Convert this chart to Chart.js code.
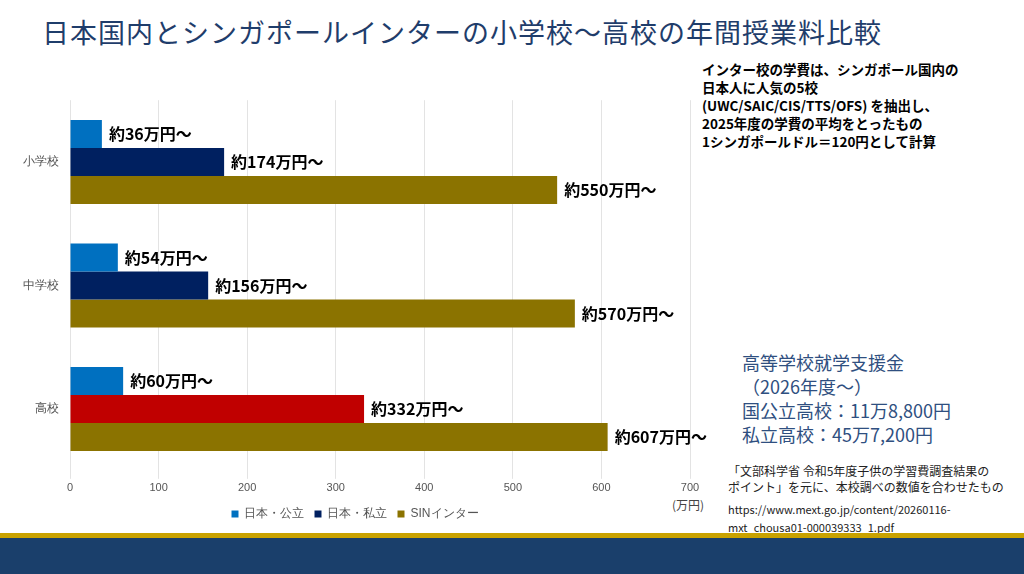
<!DOCTYPE html>
<html><head><meta charset="utf-8">
<script src="https://cdn.jsdelivr.net/npm/chart.js@4"></script>
<style>
body{margin:0;width:1024px;height:574px;overflow:hidden;background:#fff;font-family:"Noto Sans CJK JP",sans-serif;position:relative}
.t{position:absolute;white-space:nowrap}
</style></head><body>
<div class="t" style="left:42px;top:12px;font-size:27px;color:#1F3D6B;letter-spacing:1px">日本国内とシンガポールインターの小学校～高校の年間授業料比較</div>
<div class="t" style="left:702px;top:60px;font-size:13.5px;font-weight:bold;line-height:18px;color:#000">インター校の学費は、シンガポール国内の<br>日本人に人気の5校<br>(UWC/SAIC/CIS/TTS/OFS) を抽出し、<br>2025年度の学費の平均をとったもの<br>1シンガポールドル＝120円として計算</div>
<div class="t" style="left:742px;top:350px;font-size:18px;line-height:24px;color:#2F4F80">高等学校就学支援金<br>（2026年度～）<br>国公立高校：11万8,800円<br>私立高校：45万7,200円</div>
<div class="t" style="left:728px;top:463px;font-size:12px;line-height:16px;color:#222">「文部科学省 令和5年度子供の学習費調査結果の<br>ポイント」を元に、本校調べの数値を合わせたもの</div>
<div class="t" style="left:728px;top:500px;font-size:11px;line-height:18px;color:#222">https://www.mext.go.jp/content/20260116-<br>mxt_chousa01-000039333_1.pdf</div>
<div class="t" style="left:672px;top:496px;font-size:12px;color:#444">(万円)</div>
<div style="position:absolute;left:0;top:533px;width:1024px;height:5px;background:#C9A200"></div>
<div style="position:absolute;left:0;top:538px;width:1024px;height:36px;background:#1A3F6B"></div>
<div style="position:absolute;left:0;top:90px;width:710px;height:440px"><canvas id="c"></canvas></div>
<script>
const categories=["小学校","中学校","高校"];
const publicJP=[36,54,60];
const privateJP=[174,156,332];
const sinIntl=[550,570,607];
const xTicks=[0,100,200,300,400,500,600,700];
const labelPlugin={id:'lbl',afterDatasetsDraw(ch){const c=ch.ctx;c.save();c.font='bold 16px "Noto Sans CJK JP"';c.fillStyle='#000';c.textBaseline='middle';
ch.data.datasets.forEach((d,i)=>{ch.getDatasetMeta(i).data.forEach((b,j)=>{c.fillText('約'+d.data[j]+'万円～',b.x+7,b.y);});});c.restore();}};
new Chart(document.getElementById('c'),{type:'bar',
data:{labels:categories,datasets:[
{label:'日本・公立',data:publicJP,backgroundColor:'#0070C0'},
{label:'日本・私立',data:privateJP,backgroundColor:['#002060','#002060','#C00000']},
{label:'SINインター',data:sinIntl,backgroundColor:'#8B7300'}]},
options:{indexAxis:'y',responsive:true,maintainAspectRatio:false,animation:false,
layout:{padding:{left:20,right:20,top:8,bottom:0}},
categoryPercentage:0.68,barPercentage:1,
scales:{x:{min:0,max:700,ticks:{stepSize:100,color:'#555',font:{size:11}},grid:{color:'#e3e3e3'},border:{display:false}},
y:{ticks:{color:'#555',font:{size:12}},grid:{display:false},border:{display:false}}},
plugins:{legend:{position:'bottom',labels:{boxWidth:7,boxHeight:7,color:'#555',font:{size:12},
generateLabels(ch){return ch.data.datasets.map((d,i)=>({text:d.label,fillStyle:['#0070C0','#002060','#8B7300'][i],strokeStyle:'transparent',lineWidth:0,datasetIndex:i,fontColor:'#555'}));}}},tooltip:{enabled:false}}},
plugins:[labelPlugin]});
</script></body></html>
